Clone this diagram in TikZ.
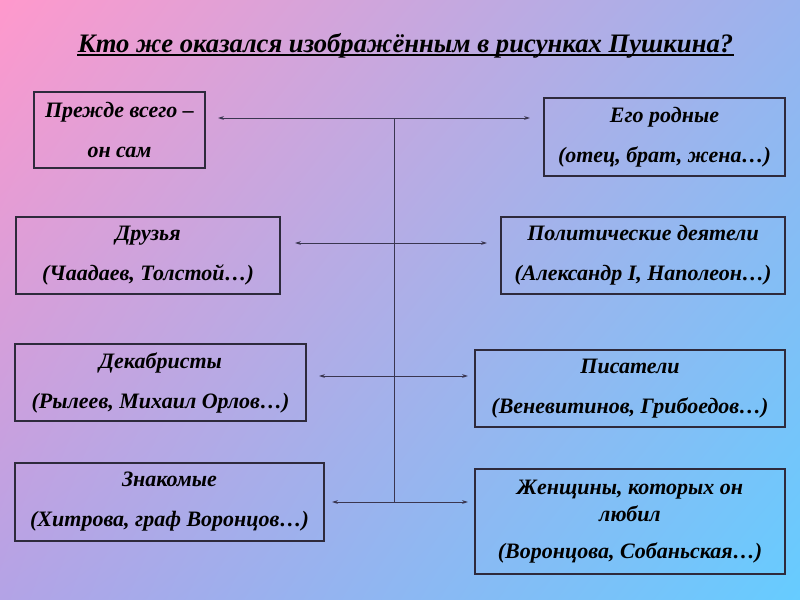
\documentclass[tikz,border=0pt]{standalone}
\usepackage{fontspec}
\setmainfont{Liberation Serif}
\usetikzlibrary{arrows.meta,shadings}
\definecolor{cTL}{HTML}{FF99CC}
\definecolor{cTR}{HTML}{99B3EE}
\definecolor{cBL}{HTML}{B3A3E6}
\definecolor{cBR}{HTML}{66CCFF}
\definecolor{lineC}{HTML}{3A3650}
\definecolor{boxC}{HTML}{2E2A3C}
\begin{document}
\begin{tikzpicture}[x=0.75pt,y=-0.75pt,
  box/.style={draw=boxC, line width=1pt, rectangle, inner sep=0pt, align=center,
    font=\fontsize{16.5}{20.25}\selectfont\bfseries\itshape},
  link/.style={draw=lineC, line width=0.6pt},
  biarrow/.style={link, {Stealth[length=4.5pt,width=2.8pt]}-{Stealth[length=4.5pt,width=2.8pt]}},
  ttl/.style={inner sep=0pt, font=\fontsize{20}{24}\selectfont\bfseries\itshape}]
\shade[upper left=cTL, upper right=cTR, lower left=cBL, lower right=cBR] (0,0) rectangle (800,600);
\useasboundingbox (0,0) rectangle (800,600);

\node[ttl, anchor=base] (title) at (405.5,52) {Кто же оказался изображённым в рисунках Пушкина?};
\draw[line width=1.4pt, black] ([yshift=-2.5pt]title.base west) -- ([yshift=-2.5pt]title.base east);

\node[box, minimum width=128.25pt, minimum height=57pt] (b1) at (119.5,130) {Прежде всего –\\[9.75pt]он сам};
\node[box, minimum width=198pt, minimum height=57.75pt] (b2) at (148,255.5) {Друзья\\[9.75pt](Чаадаев, Толстой…)};
\node[box, minimum width=218.25pt, minimum height=57.75pt] (b3) at (160.5,382.5) {Декабристы\\[9.75pt](Рылеев, Михаил Орлов…)};
\node[box, minimum width=231.75pt, minimum height=58.5pt] (b4) at (169.5,502) {Знакомые\\[9.75pt](Хитрова, граф Воронцов…)};

\node[box, minimum width=180.75pt, minimum height=58.5pt] (b5) at (664.5,137) {Его родные\\[9.75pt](отец, брат, жена…)};
\node[box, minimum width=213pt, minimum height=57.75pt] (b6) at (643,255.5) {Политические деятели\\[9.75pt](Александр I, Наполеон…)};
\node[box, minimum width=232.5pt, minimum height=57.75pt] (b7) at (630,388.5) {Писатели\\[9.75pt](Веневитинов, Грибоедов…)};
\node[box, minimum width=232.5pt, minimum height=78.75pt] (b8) at (630,521.5) {Женщины, которых он\\любил\\[7.5pt] (Воронцова, Собаньская…)};

\coordinate (l1) at (218,118); \coordinate (r1) at (530,118);
\coordinate (l2) at (295,243); \coordinate (r2) at (487,243);
\coordinate (l3) at (319,376); \coordinate (r3) at (468,376);
\coordinate (l4) at (332,502); \coordinate (r4) at (468,502);
\coordinate (vt) at (394,118); \coordinate (vb) at (394,502);

\draw[link] (vt) -- (vb);
\draw[biarrow] (l1) -- (r1);
\draw[biarrow] (l2) -- (r2);
\draw[biarrow] (l3) -- (r3);
\draw[biarrow] (l4) -- (r4);
\end{tikzpicture}
\end{document}
